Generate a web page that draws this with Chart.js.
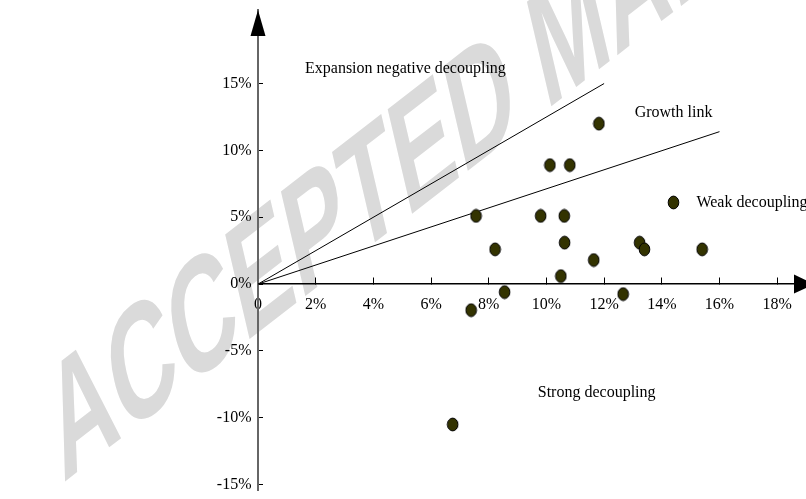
<!DOCTYPE html>
<html><head><meta charset="utf-8">
<script src="https://cdn.jsdelivr.net/npm/chart.js@4/dist/chart.umd.min.js"></script>
<style>html,body{margin:0;padding:0;background:#fff}#wrap{width:806px;height:499px;position:relative}</style>
</head><body><div id="wrap"><canvas id="c" width="806" height="499"></canvas></div>
<script>
// ---- data ----
const pointsX = [7.56, 8.22, 8.55, 7.39, 6.75, 9.8, 10.62, 10.63, 10.5, 11.64, 12.66, 13.23, 13.4, 15.4, 11.82, 10.12, 10.81];
const pointsY = [5.1, 2.6, -0.6, -1.95, -10.5, 5.1, 5.1, 3.1, 0.6, 1.8, -0.75, 3.1, 2.6, 2.6, 12.0, 8.9, 8.9];
const upperLineX = [0, 12];
const upperLineY = [0, 15];
const lowerLineX = [0, 16];
const lowerLineY = [0, 11.4];
const xTickValues = [0, 2, 4, 6, 8, 10, 12, 14, 16, 18];
const xTickLabels = ['0', '2%', '4%', '6%', '8%', '10%', '12%', '14%', '16%', '18%'];
const yTickValues = [-15, -10, -5, 0, 5, 10, 15];
const yTickLabels = ['-15%', '-10%', '-5%', '0%', '5%', '10%', '15%'];
const regionNames = ['Expansion negative decoupling', 'Growth link', 'Weak decoupling', 'Strong decoupling'];
const watermarkText = 'ACCEPTED MANUSCRIPT';

// ---- styling / layout (not data) ----
const FONT = "'Liberation Serif','Times New Roman',serif";
const regionAnchors = [[1.63, 16.1], [13.06, 12.8], [15.2, 6.1], [9.7, -8.1]];
const legendDotAnchor = [14.41, 6.1];

function makeDot() {
  const c = document.createElement('canvas');
  c.width = 13; c.height = 15;
  const g = c.getContext('2d');
  g.beginPath();
  g.ellipse(6.5, 7.5, 5.3, 6.4, 0, 0, Math.PI * 2);
  g.fillStyle = '#333300';
  g.fill();
  g.lineWidth = 1;
  g.strokeStyle = '#000';
  g.stroke();
  return c;
}
const dot = makeDot();

const toXY = (xs, ys) => xs.map((x, i) => ({ x: x, y: ys[i] }));

const decor = {
  id: 'decor',
  beforeDraw(chart) {
    const ctx = chart.ctx;
    ctx.save();
    ctx.fillStyle = '#fff';
    ctx.fillRect(0, 0, chart.width, chart.height);
    // watermark
    ctx.translate(63, 483);
    ctx.scale(0.55, 1);
    ctx.rotate(-23 * Math.PI / 180);
    ctx.font = "bold 165px 'Liberation Sans', Arial, sans-serif";
    ctx.fillStyle = '#dadada';
    ctx.textBaseline = 'alphabetic';
    ctx.textAlign = 'left';
    ctx.fillText(watermarkText, 0, 0);
    ctx.restore();
  },
  afterDraw(chart) {
    const ctx = chart.ctx;
    const xs = chart.scales.x, ys = chart.scales.y;
    const ca = chart.chartArea;
    const x0 = xs.getPixelForValue(0), y0 = ys.getPixelForValue(0);
    ctx.save();
    ctx.fillStyle = '#000';
    // y arrow
    ctx.beginPath();
    ctx.moveTo(x0, ca.top);
    ctx.lineTo(x0 - 7.5, ca.top + 26);
    ctx.lineTo(x0 + 7.5, ca.top + 26);
    ctx.closePath();
    ctx.fill();
    // x arrow
    ctx.beginPath();
    ctx.moveTo(ca.right - 12, y0 - 9.5);
    ctx.lineTo(ca.right + 8, y0);
    ctx.lineTo(ca.right - 12, y0 + 9.5);
    ctx.closePath();
    ctx.fill();
    // region labels
    ctx.font = '16px ' + FONT;
    ctx.textAlign = 'left';
    ctx.textBaseline = 'middle';
    regionNames.forEach((t, i) => {
      ctx.fillText(t, xs.getPixelForValue(regionAnchors[i][0]), ys.getPixelForValue(regionAnchors[i][1]));
    });
    // legend dot next to "Weak decoupling"
    const lx = xs.getPixelForValue(legendDotAnchor[0]), ly = ys.getPixelForValue(legendDotAnchor[1]);
    ctx.drawImage(dot, Math.round(lx - dot.width / 2), Math.round(ly - dot.height / 2));
    ctx.restore();
  }
};

new Chart(document.getElementById('c'), {
  type: 'scatter',
  data: {
    datasets: [
      { label: 'points', data: toXY(pointsX, pointsY), pointStyle: dot, pointRadius: 6, showLine: false, order: 0 },
      { label: 'upper', data: toXY(upperLineX, upperLineY), showLine: true, borderColor: '#000', borderWidth: 1, pointRadius: 0, order: 1 },
      { label: 'lower', data: toXY(lowerLineX, lowerLineY), showLine: true, borderColor: '#000', borderWidth: 1, pointRadius: 0, order: 1 }
    ]
  },
  options: {
    responsive: false,
    animation: false,
    devicePixelRatio: 1,
    layout: { autoPadding: false, padding: { left: 0, right: 0, top: 10, bottom: 9 } },
    plugins: { legend: { display: false }, tooltip: { enabled: false } },
    scales: {
      x: {
        type: 'linear',
        position: { y: 0 },
        min: 0, max: 19,
        afterBuildTicks: (s) => { s.ticks = xTickValues.map(v => ({ value: v })); },
        afterFit: (s) => { s.height = 0; s.paddingLeft = 0; s.paddingRight = 0; s.paddingTop = 0; s.paddingBottom = 0; },
        grid: { drawOnChartArea: false, drawTicks: true, tickLength: -7, tickColor: '#000', tickWidth: 1 },
        border: { display: true, color: '#000', width: 1.5 },
        ticks: {
          color: '#000', padding: 20, maxRotation: 0, autoSkip: false,
          font: { family: FONT, size: 16, lineHeight: 1 },
          callback: (v) => { const i = xTickValues.indexOf(v); return i >= 0 ? xTickLabels[i] : ''; }
        }
      },
      y: {
        type: 'linear',
        position: 'left',
        min: -15.4, max: 20.5,
        afterBuildTicks: (s) => { s.ticks = yTickValues.map(v => ({ value: v })); },
        afterFit: (s) => { s.width = 258; s.paddingTop = 0; s.paddingBottom = 0; },
        grid: { drawOnChartArea: false, drawTicks: true, tickLength: -5, tickColor: '#000', tickWidth: 1 },
        border: { display: true, color: '#666', width: 2 },
        ticks: {
          color: '#000', padding: 11.5, autoSkip: false,
          font: { family: FONT, size: 16, lineHeight: 1 },
          callback: (v) => { const i = yTickValues.indexOf(v); return i >= 0 ? yTickLabels[i] : ''; }
        }
      }
    }
  },
  plugins: [decor]
});
</script></body></html>
